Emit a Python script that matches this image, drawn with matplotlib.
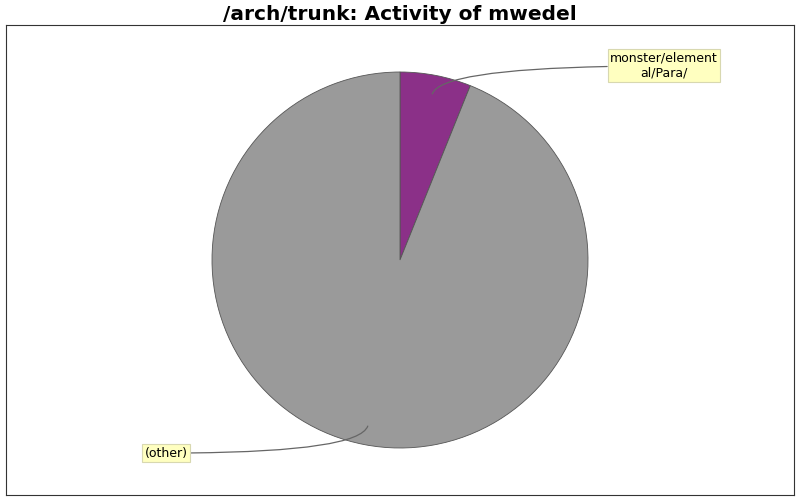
import numpy as np
import matplotlib
matplotlib.use("Agg")
import matplotlib.pyplot as plt

# slice data
labels = ["monster/element\nal/Para/", "(other)"]
values = [6.1, 93.9]
colors = ["#8b3088", "#9a9a9a"]

# where the callout boxes sit (data units, pie radius = 1)
label_pos = [(1.404, 1.032), (-1.245, -1.027)]

fig = plt.figure(figsize=(8, 5), dpi=100)
ax = fig.add_axes([6 / 800, 5 / 500, 788 / 800, 470 / 500])

wedges, _ = ax.pie(values, colors=colors, startangle=90, counterclock=False,
                   radius=1.0, frame=True,
                   wedgeprops=dict(edgecolor="#555555", linewidth=0.6))

ax.set_xlim(-394 / 188, 394 / 188)
ax.set_ylim(-235 / 188, 235 / 188)
ax.set_aspect("equal")
ax.set_xticks([])
ax.set_yticks([])
for s in ax.spines.values():
    s.set_visible(True)
    s.set_color("#333333")
    s.set_linewidth(0.8)

# callouts anchored at mid angle of each slice
for w, lab, pos in zip(wedges, labels, label_pos):
    mid = np.deg2rad((w.theta1 + w.theta2) / 2)
    anchor = (0.9 * np.cos(mid), 0.9 * np.sin(mid))
    ax.annotate(lab, xy=anchor, xytext=pos, ha="center", va="center",
                fontsize=9, multialignment="center",
                bbox=dict(boxstyle="square,pad=0.2", fc="#ffffc0", ec="#d8d8b0", lw=0.8),
                arrowprops=dict(arrowstyle="-", color="#666666", lw=0.9,
                                connectionstyle="angle3,angleA=0,angleB=70",
                                shrinkA=0, shrinkB=0))

fig.suptitle("/arch/trunk: Activity of mwedel", fontsize=14.5, fontweight="bold", y=0.99)

fig.savefig("out.png", dpi=100)
